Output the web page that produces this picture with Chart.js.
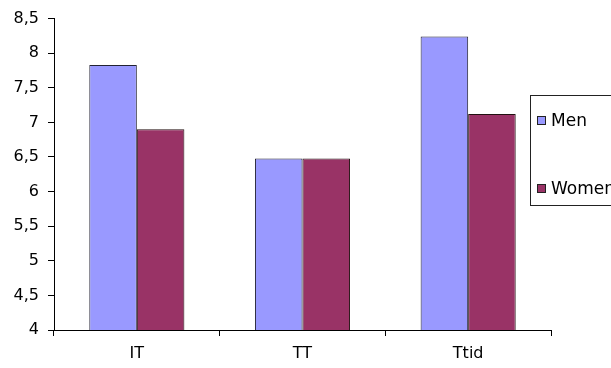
<!DOCTYPE html>
<html>
<head>
<meta charset="utf-8">
<script src="https://cdn.jsdelivr.net/npm/chart.js@4/dist/chart.umd.min.js"></script>
<style>
  html, body { margin: 0; padding: 0; background: #fff; overflow: hidden; }
  #wrap { width: 611px; height: 368px; position: relative; }
</style>
</head>
<body>
<div id="wrap"><canvas id="c" width="611" height="368"></canvas></div>
<script>
const categories = ['IT', 'TT', 'Ttid'];
const menValues = [7.83, 6.48, 8.24];
const womenValues = [6.9, 6.48, 7.12];
const yTicks = [4, 4.5, 5, 5.5, 6, 6.5, 7, 7.5, 8, 8.5];

const FONT = '"DejaVu Sans", "Liberation Sans", Arial, sans-serif';

// Boxed legend drawn at the right, partly running off the canvas edge
const boxLegend = {
  id: 'boxLegend',
  afterDraw(chart) {
    const ctx = chart.ctx;
    ctx.save();
    const x = 530.5, y = 95.5, w = 100, h = 110;
    ctx.fillStyle = '#fff';
    ctx.fillRect(x, y, w, h);
    ctx.strokeStyle = '#222';
    ctx.lineWidth = 1;
    ctx.strokeRect(x, y, w, h);
    const rows = [121, 189];
    chart.data.datasets.forEach((ds, i) => {
      const cy = rows[i];
      ctx.fillStyle = ds.backgroundColor;
      ctx.fillRect(537.5, cy - 4.5, 8, 8);
      ctx.strokeStyle = '#222';
      ctx.strokeRect(537.5, cy - 4.5, 8, 8);
      ctx.fillStyle = '#000';
      ctx.font = '17px ' + FONT;
      ctx.textBaseline = 'middle';
      ctx.textAlign = 'left';
      ctx.fillText(ds.label, 551, cy + 1);
    });
    ctx.restore();
  }
};

new Chart(document.getElementById('c'), {
  type: 'bar',
  data: {
    labels: categories,
    datasets: [
      { label: 'Men', data: menValues, backgroundColor: '#9999FF', borderColor: '#222233', borderWidth: 1 },
      { label: 'Women', data: womenValues, backgroundColor: '#993366', borderColor: '#221111', borderWidth: 1 }
    ]
  },
  options: {
    responsive: false,
    animation: false,
    devicePixelRatio: 1,
    layout: { padding: { top: 16, right: 60, left: 0, bottom: 0 } },
    categoryPercentage: 0.574,
    barPercentage: 1,
    plugins: { legend: { display: false }, tooltip: { enabled: false } },
    scales: {
      x: {
        grid: { offset: true, drawOnChartArea: false, tickLength: 6, color: '#000' },
        border: { color: '#000', width: 1 },
        ticks: { color: '#000', font: { family: FONT, size: 16 }, padding: 8 },
        afterFit(scale) { scale.height = 38; }
      },
      y: {
        min: 4,
        max: 8.5,
        afterBuildTicks(scale) { scale.ticks = yTicks.map(v => ({ value: v })); },
        grid: { drawOnChartArea: false, tickLength: 6, color: '#000' },
        border: { color: '#000', width: 1 },
        ticks: {
          color: '#000',
          font: { family: FONT, size: 16 },
          padding: 9,
          callback: v => String(v).replace('.', ',')
        },
        afterFit(scale) { scale.width = 54; }
      }
    }
  },
  plugins: [boxLegend]
});
</script>
</body>
</html>
